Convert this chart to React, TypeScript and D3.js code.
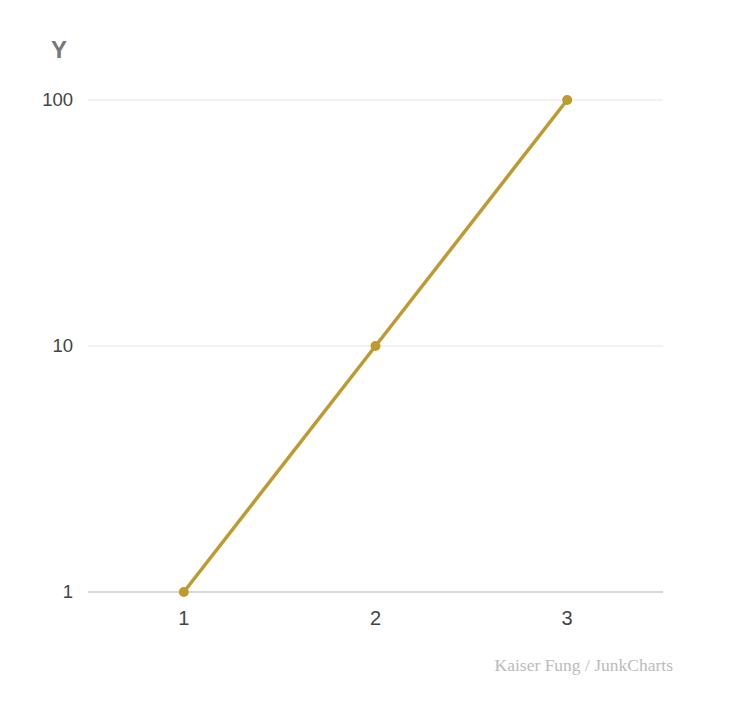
import React from "react";
import * as d3 from "d3";

const xValues = [1, 2, 3];
const yValues = [1, 10, 100];
const yTicks = [1, 10, 100];
const xTicks = [1, 2, 3];

export default function App() {
  const W = 736, H = 706;
  const left = 88, right = 663, top = 100, bottom = 592;
  const x = d3.scaleLinear().domain([0.5, 3.5]).range([left, right]);
  const y = d3.scaleLog().domain([1, 100]).range([bottom, top]);
  const pts = xValues.map((v, i) => [x(v), y(yValues[i])] as [number, number]);
  const line = d3.line()(pts) || "";
  return (
    <svg width={W} height={H} style={{ position: "absolute", left: 0, top: 0 }} fontFamily="Liberation Sans, Arial, sans-serif">
      <rect width={W} height={H} fill="#fff" />
      <text x={59} y={58} textAnchor="middle" fontSize={24} fontWeight="bold" fill="#777">Y</text>
      {yTicks.map((t) => (
        <g key={t}>
          {t !== 1 && <line x1={left} x2={right} y1={y(t)} y2={y(t)} stroke="#e6e6e6" strokeWidth={1} />}
          <text x={73} y={y(t)} dy="0.35em" textAnchor="end" fontSize={18.5} fill="#444">{t}</text>
        </g>
      ))}
      <line x1={left} x2={right} y1={bottom} y2={bottom} stroke="#ccc" strokeWidth={1.5} />
      {xTicks.map((t) => (
        <text key={t} x={x(t)} y={625} textAnchor="middle" fontSize={20} fill="#444">{t}</text>
      ))}
      <path d={line} fill="none" stroke="#bf9a30" strokeWidth={3.5} />
      {pts.map((p, i) => (
        <circle key={i} cx={p[0]} cy={p[1]} r={5} fill="#bf9a30" />
      ))}
      <text x={673} y={671} textAnchor="end" fontSize={17.5} fill="#bbb" fontFamily="Liberation Serif, Times New Roman, serif">Kaiser Fung / JunkCharts</text>
    </svg>
  );
}
